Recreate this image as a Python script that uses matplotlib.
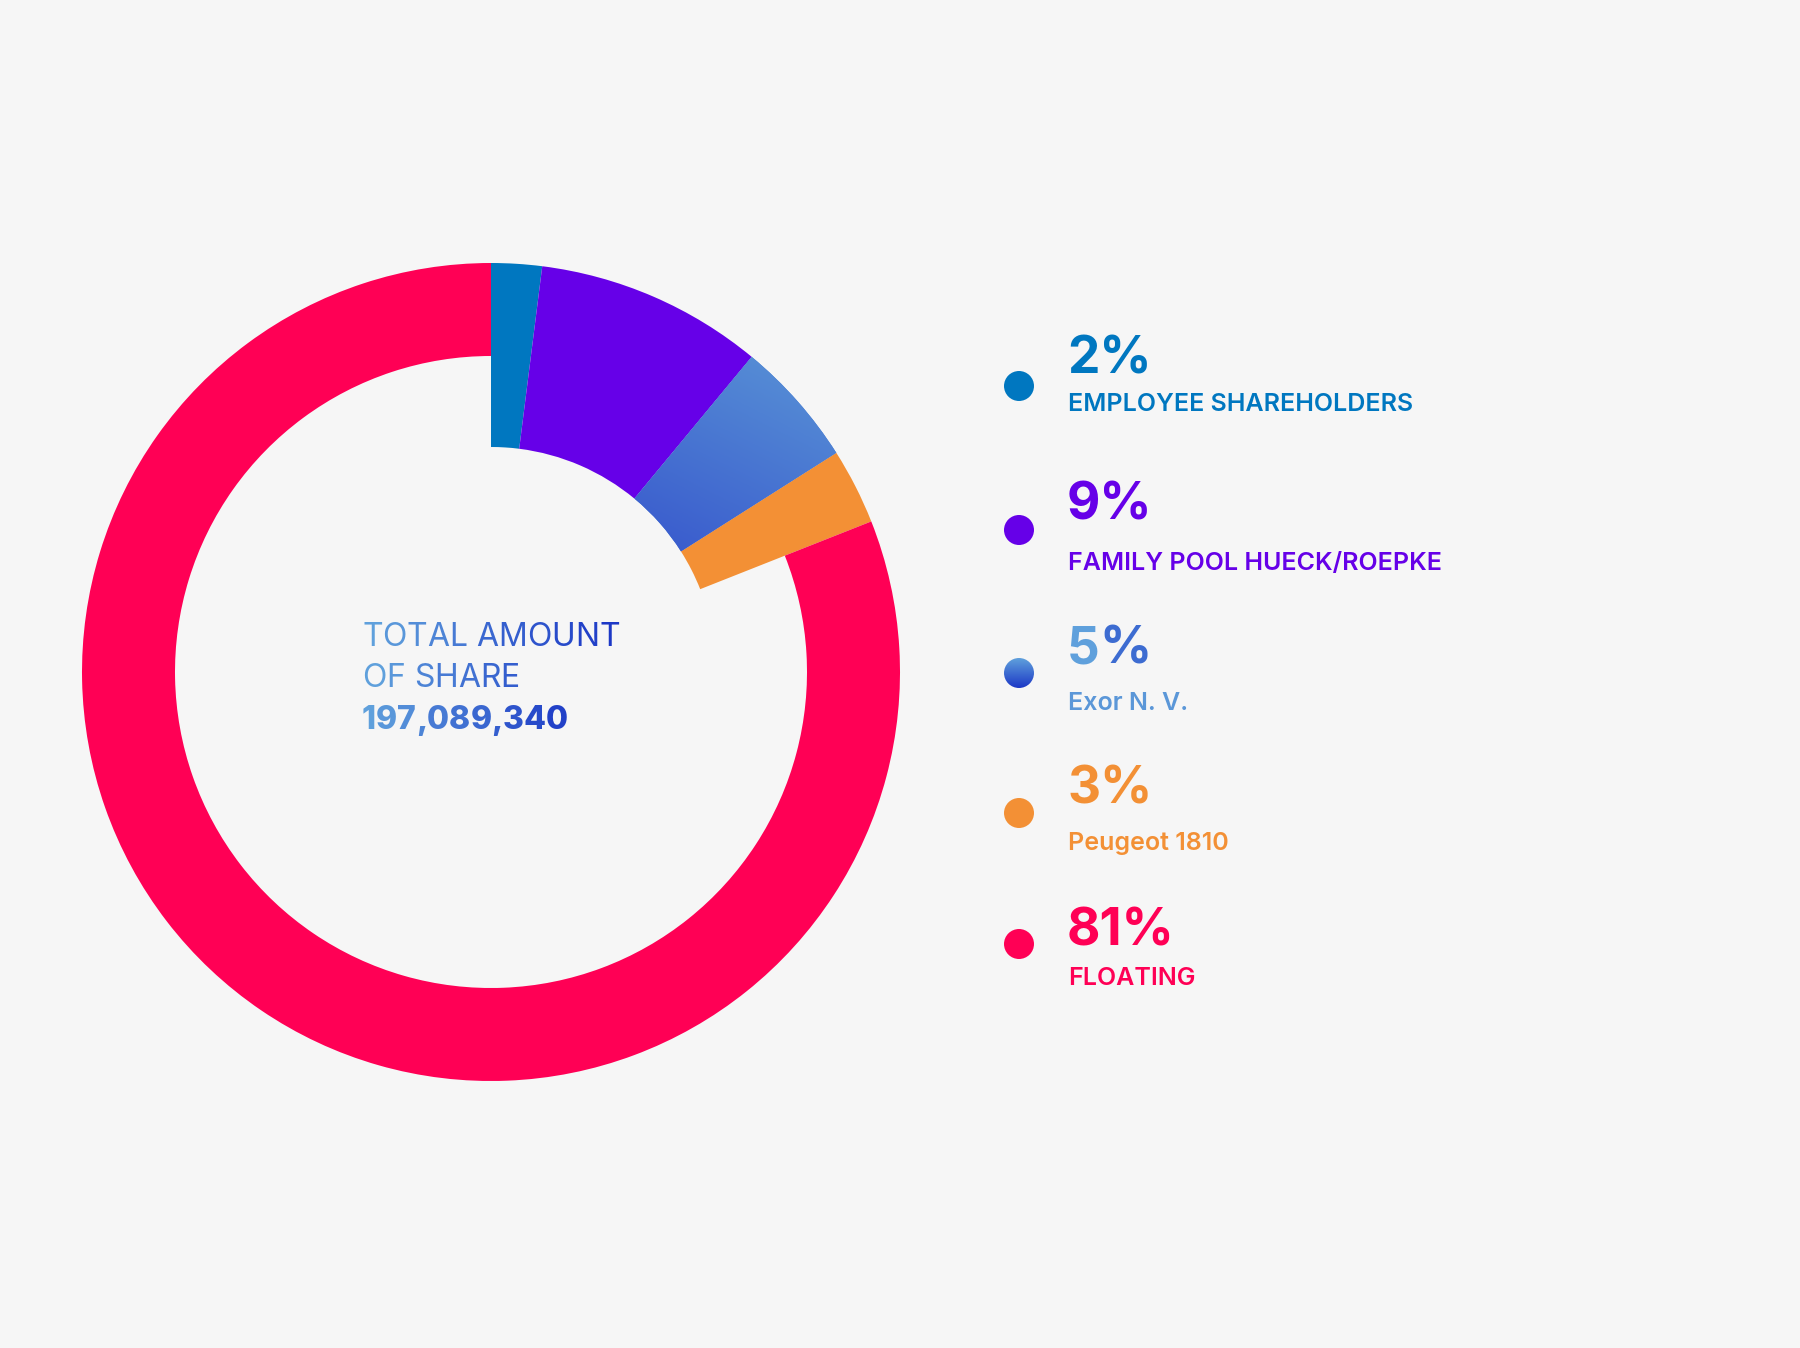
import numpy as np
import matplotlib
matplotlib.use("Agg")
import matplotlib.pyplot as plt
from matplotlib.colors import LinearSegmentedColormap

plt.rcParams["font.family"] = ["Inter", "DejaVu Sans"]

# share structure
names = ['EMPLOYEE SHAREHOLDERS', 'FAMILY POOL HUECK/ROEPKE', 'Exor N. V.', 'Peugeot 1810', 'FLOATING']
shares = [2, 9, 5, 3, 81]
pct_labels = ['2%', '9%', '5%', '3%', '81%']
colors = ['#0077c0', '#6600e8', '#4a7fd6', '#f39035', '#ff0055']
total_lines = ['TOTAL AMOUNT', 'OF SHARE', '197,089,340']

W, H = 1800, 1348
BG = '#f6f6f6'
blue_grad = LinearSegmentedColormap.from_list('bg', ['#5fa0dc', '#1c38c6'])

fig = plt.figure(figsize=(W / 100, H / 100), dpi=100, facecolor=BG)
ax = fig.add_axes([0, 0, 1, 1])
ax.set_facecolor(BG)

# donut
cx, cy = 491, H - 672
R = 409
wedges, _ = ax.pie(shares, colors=colors, startangle=90, counterclock=False,
                   radius=R, center=(cx, cy),
                   wedgeprops=dict(width=R - 225, linewidth=0))
wedges[-1].set_width(R - 316)

# gradient on the Exor slice: light at the outer top, darker towards the inner bottom
ex = wedges[2]
gy, gx = np.mgrid[0:1:200j, 0:1:200j]
g = 0.8 * gy + 0.4 * (1 - gx)
g = (g - g.min()) / (g.max() - g.min())
ex_cmap = LinearSegmentedColormap.from_list('ex', ['#5c98d7', '#3553cc'])
im = ax.imshow(g, cmap=ex_cmap, extent=(cx + 130, cx + 360, cy + 100, cy + 330),
               origin='upper', zorder=3, interpolation='bilinear', aspect='auto')
im.set_clip_path(ex)


def grad_text(x, y, s, size, weight, n_ref):
    # one character at a time so each gets its own shade of the gradient
    t = None
    for i, ch in enumerate(s):
        c = blue_grad(min(i / max(n_ref - 1, 1), 1.0))
        if t is None:
            t = ax.text(x, y, ch, fontsize=size, fontweight=weight, color=c,
                        va='baseline', ha='left')
        else:
            t = ax.annotate(ch, xy=(1, 0), xycoords=t, fontsize=size,
                            fontweight=weight, color=c, va='bottom', ha='left')
    return t


# centre text
n_ref = len(total_lines[0])
grad_text(362, H - 646, total_lines[0], 23, 'normal', n_ref)
grad_text(362, H - 687, total_lines[1], 23, 'normal', n_ref)
grad_text(362, H - 729, total_lines[2], 23, 'heavy', n_ref)

# legend
dot_y = [386, 530, 673, 813, 944]
pct_base = [373, 519, 664, 804, 945]
lab_base = [411, 570, 710, 850, 985]
lab_colors = ['#0077c0', '#6600e8', '#5b97d8', '#f39035', '#ff0055']

for i in range(len(names)):
    if i == 2:
        # small vertical gradient dot
        dot = plt.Circle((1019, H - dot_y[i]), 15, transform=ax.transData,
                         facecolor='none', edgecolor='none')
        ax.add_patch(dot)
        dimg = ax.imshow(np.linspace(0, 1, 64).reshape(-1, 1), cmap=blue_grad,
                         extent=(1004, 1034, H - dot_y[i] - 15, H - dot_y[i] + 15),
                         origin='upper', zorder=4, aspect='auto')
        dimg.set_clip_path(dot)
        grad_text(1067, H - pct_base[i], pct_labels[i], 37, 'bold', 3)
    else:
        ax.add_patch(plt.Circle((1019, H - dot_y[i]), 15, color=colors[i], lw=0, zorder=4))
        ax.text(1067, H - pct_base[i], pct_labels[i], fontsize=37, fontweight='bold',
                color=colors[i], va='baseline', ha='left')
    ax.text(1068, H - lab_base[i], names[i], fontsize=18, fontweight='semibold',
            color=lab_colors[i], va='baseline', ha='left')

ax.set_xlim(0, W)
ax.set_ylim(0, H)
ax.set_aspect('equal')
ax.axis('off')

fig.savefig('out.png', dpi=100, facecolor=BG)
